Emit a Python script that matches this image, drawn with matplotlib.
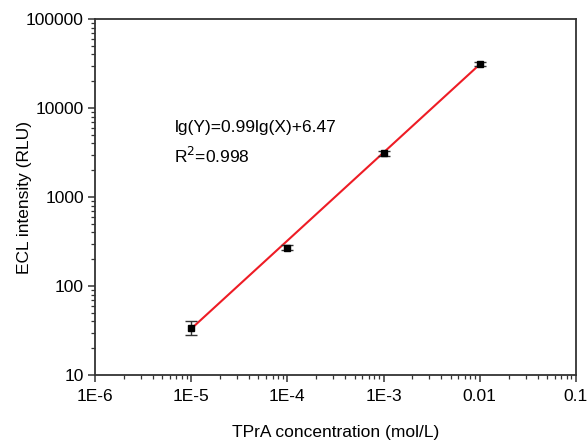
import numpy as np
import matplotlib
matplotlib.use("Agg")
import matplotlib.pyplot as plt
from matplotlib.ticker import LogLocator, NullFormatter

plt.rcParams["font.family"] = ["Liberation Sans", "DejaVu Sans"]

# data
conc = [1e-5, 1e-4, 1e-3, 1e-2]          # TPrA concentration (mol/L)
ecl = [34, 270, 3100, 31000]             # ECL intensity (RLU)
ecl_err = [6, 18, 220, 1600]

slope, intercept = 0.99, 6.47            # lg(Y)=0.99lg(X)+6.47
fit_range = [1e-5, 1e-2]

xticks = [1e-6, 1e-5, 1e-4, 1e-3, 1e-2, 1e-1]
xticklabels = ["1E-6", "1E-5", "1E-4", "1E-3", "0.01", "0.1"]
yticks = [10, 100, 1000, 10000, 100000]
yticklabels = ["10", "100", "1000", "10000", "100000"]

fig = plt.figure(figsize=(5.87, 4.43), dpi=100)
ax = fig.add_axes([0.162, 0.1535, 0.819, 0.8035])

xf = np.array(fit_range)
ax.plot(xf, 10 ** (slope * np.log10(xf) + intercept), color="#ee1c25", lw=1.5, zorder=2)
ax.errorbar(conc, ecl, yerr=ecl_err, fmt="s", color="black", ms=5,
            ecolor="#333333", elinewidth=1.0, capsize=4.5, capthick=1.0, zorder=3)

ax.set_xscale("log"); ax.set_yscale("log")
ax.set_xlim(1e-6, 1e-1); ax.set_ylim(10, 1e5)
ax.set_xticks(xticks); ax.set_xticklabels(xticklabels)
ax.set_yticks(yticks); ax.set_yticklabels(yticklabels)
ax.xaxis.set_minor_locator(LogLocator(base=10, subs=np.arange(2, 10)))
ax.yaxis.set_minor_locator(LogLocator(base=10, subs=np.arange(2, 10)))
ax.xaxis.set_minor_formatter(NullFormatter()); ax.yaxis.set_minor_formatter(NullFormatter())

for s in ax.spines.values():
    s.set_linewidth(1.3); s.set_color("#333333")
ax.tick_params(which="major", direction="out", length=5, width=1.1, labelsize=12.5,
               colors="#333333", labelcolor="black", pad=3)
ax.tick_params(axis="x", which="major", pad=5)
ax.tick_params(which="minor", direction="out", length=3, width=0.9, colors="#333333")

ax.set_xlabel("TPrA concentration (mol/L)", fontsize=12.5, labelpad=15)
ax.set_ylabel("ECL intensity (RLU)", fontsize=12.5)
ax.yaxis.set_label_coords(-0.131, 0.5)

ax.text(0.165, 0.695, "lg(Y)=0.99lg(X)+6.47", transform=ax.transAxes,
        fontsize=12.5, va="center", ha="left")
ax.text(0.165, 0.615, r"R$^2$=0.998", transform=ax.transAxes,
        fontsize=12.5, va="center", ha="left")

fig.savefig("out.png", dpi=100)
